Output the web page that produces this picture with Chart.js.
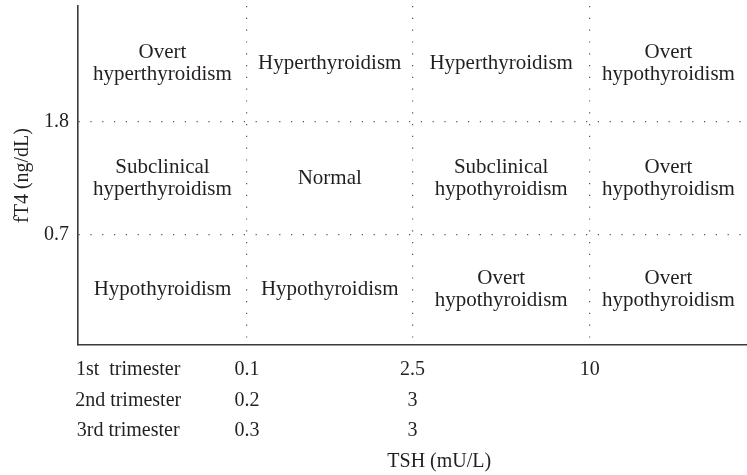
<!DOCTYPE html>
<html>
<head>
<meta charset="utf-8">
<script src="https://cdn.jsdelivr.net/npm/chart.js@4.4.1/dist/chart.umd.min.js"></script>
<style>
  html, body { margin: 0; padding: 0; background: #fff; }
  #wrap { width: 747px; height: 475px; }
</style>
</head>
<body>
<div id="wrap"><canvas id="grid" width="747" height="475"></canvas></div>
<script>
// column edges along the TSH axis and row edges along the fT4 axis (axis units)
const tshEdges = [0, 1.01, 2.0, 3.06, 4];
const fT4Edges = [0, 1.0, 2.03, 3.08];

// cut-off labels
const fT4Ticks = ['0.7', '1.8'];
const trimesters = ['1st  trimester', '2nd trimester', '3rd trimester'];
const tshLow = ['0.1', '0.2', '0.3'];
const tshHigh = ['2.5', '3', '3'];
const tshOvert = ['10', '', ''];
const trimesterColumn = 0.3;

// diagnosis in each cell, top row first
const rowHigh = ['Overt\nhyperthyroidism', 'Hyperthyroidism', 'Hyperthyroidism', 'Overt\nhypothyroidism'];
const rowNormal = ['Subclinical\nhyperthyroidism', 'Normal', 'Subclinical\nhypothyroidism', 'Overt\nhypothyroidism'];
const rowLow = ['Hypothyroidism', 'Hypothyroidism', 'Overt\nhypothyroidism', 'Overt\nhypothyroidism'];

const FONT = '"Liberation Serif", "Times New Roman", serif';
const INK = '#231f20';
const DOTS = '#555';

const xTickValues = [trimesterColumn, tshEdges[1], tshEdges[2], tshEdges[3]];
const xTickLabels = [trimesters, tshLow, tshHigh, tshOvert];

const cellLabels = {
    id: 'cellLabels',
    afterDraw(chart) {
        const { ctx, scales: { x, y } } = chart;
        const rows = [rowHigh, rowNormal, rowLow];
        ctx.save();
        ctx.font = '21px ' + FONT;
        ctx.fillStyle = INK;
        ctx.textAlign = 'center';
        ctx.textBaseline = 'middle';
        rows.forEach((row, r) => {
            const e = fT4Edges.length - 1 - r;
            const cy = y.getPixelForValue((fT4Edges[e] + fT4Edges[e - 1]) / 2);
            row.forEach((label, c) => {
                const cx = x.getPixelForValue((tshEdges[c] + tshEdges[c + 1]) / 2);
                const lines = label.split('\n');
                lines.forEach((line, i) => {
                    ctx.fillText(line, cx, cy + (i - (lines.length - 1) / 2) * 22);
                });
            });
        });
        // x axis title, sits a little right of centre like the original
        ctx.font = '20px ' + FONT;
        ctx.fillText('TSH (mU/L)', x.getPixelForValue(2.16), x.bottom - 13);
        ctx.restore();
    }
};

new Chart(document.getElementById('grid'), {
    type: 'scatter',
    data: { datasets: [] },
    plugins: [cellLabels],
    options: {
        responsive: false,
        animation: false,
        layout: { padding: { top: 6, right: 0, bottom: 0, left: 0 } },
        plugins: { legend: { display: false }, tooltip: { enabled: false } },
        scales: {
            x: {
                type: 'linear',
                min: tshEdges[0],
                max: tshEdges[tshEdges.length - 1],
                afterBuildTicks: scale => { scale.ticks = xTickValues.map(v => ({ value: v })); },
                afterFit: scale => {
                    scale.height = 130;
                    scale.paddingLeft = 0;
                    scale.paddingRight = 0;
                },
                ticks: {
                    autoSkip: false,
                    maxRotation: 0,
                    minRotation: 0,
                    padding: 10,
                    color: INK,
                    font: { family: FONT, size: 20, lineHeight: 1.52 },
                    callback: (value, index) => xTickLabels[index]
                },
                grid: {
                    drawTicks: false,
                    color: ctx => ctx.index === 0 ? 'transparent' : DOTS,
                    lineWidth: 1.2
                },
                border: { display: true, color: '#3a3a3a', width: 1.6, dash: [1.2, 10.6] }
            },
            y: {
                type: 'linear',
                min: fT4Edges[0],
                max: fT4Edges[fT4Edges.length - 1],
                afterBuildTicks: scale => { scale.ticks = [fT4Edges[1], fT4Edges[2]].map(v => ({ value: v })); },
                afterFit: scale => {
                    scale.width = 78;
                    scale.paddingTop = 0;
                    scale.paddingBottom = 0;
                },
                ticks: {
                    padding: 9,
                    color: INK,
                    font: { family: FONT, size: 20 },
                    callback: (value, index) => fT4Ticks[index]
                },
                grid: { drawTicks: false, color: DOTS, lineWidth: 1.2 },
                border: { display: true, color: '#3a3a3a', width: 1.6, dash: [1.2, 10.6] },
                title: {
                    display: true,
                    text: 'fT4 (ng/dL)',
                    color: INK,
                    font: { family: FONT, size: 20 },
                    padding: { top: 11, bottom: 0 }
                }
            }
        }
    }
});
</script>
</body>
</html>
